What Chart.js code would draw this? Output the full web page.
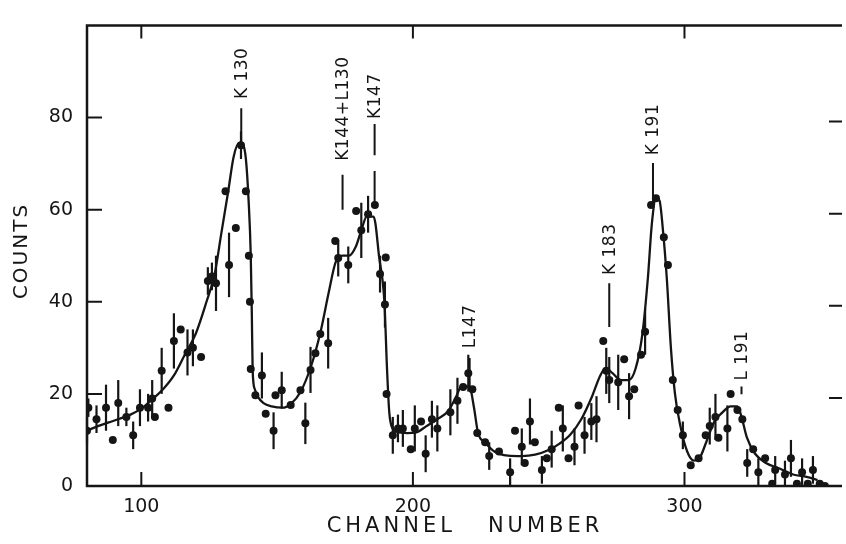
<!DOCTYPE html>
<html>
<head>
<meta charset="utf-8">
<script src="https://cdn.jsdelivr.net/npm/chart.js@4.4.1/dist/chart.umd.min.js"></script>
<style>
    html, body { margin: 0; padding: 0; background: #fff; }
    #wrap { width: 846px; height: 544px; }
</style>
</head>
<body>
<div id="wrap"><canvas id="myChart"></canvas></div>
<script>
// measured points (channel, counts, error bar half length, 0 = no bar)
const channels = [80, 80.5, 83.5, 87, 89.5, 91.5, 94.5, 97, 99.5, 102.5, 104, 105, 107.5, 110, 112, 114.5, 117, 119, 122,
    124.5, 126, 127.5, 131, 132.3, 134.8, 136.7, 138.5, 139.6, 140, 140.3, 142, 144.4, 145.8, 148.7, 149.4, 151.7, 155,
    158.6, 160.4, 162.3, 164.1, 165.9, 168.8, 171.4, 172.5, 176.2, 179.1, 181, 183.5, 186, 187.9, 190, 189.7, 190.3,
    192.6, 194.5, 196.3, 199.2, 200.7, 203, 204.7, 207, 209, 213.8, 216.4, 218.5, 220.4, 221.9, 223.7, 226.6, 228.1,
    231.7, 235.8, 237.6, 240.1, 241.2, 243.1, 244.9, 247.5, 249.3, 251.1, 253.7, 255.2, 257.3, 259.5, 261, 263.2, 265.7,
    267.6, 270.1, 271.2, 272.3, 275.6, 277.8, 279.6, 281.5, 284, 285.5, 287.7, 289.5, 292.4, 293.9, 295.7, 297.5, 299.4,
    302.3, 305.2, 307.8, 309.3, 311.4, 312.5, 315.8, 317, 319.5, 321.3, 323.1, 325.3, 327.2, 329.7, 332.3, 333.4, 337,
    339.2, 341.4, 343.3, 345.4, 347.3, 349.8, 351.7];
const counts = [12, 17, 14.5, 17, 10, 18, 15, 11, 17, 17, 19, 15, 25, 17, 31.5, 34, 29, 30, 28,
    44.5, 45.5, 44, 64, 48, 56, 74, 64, 50, 40, 25.4, 19.7, 24, 15.7, 12, 19.7, 20.8, 17.6,
    20.8, 13.6, 25.2, 28.8, 33, 31, 53.2, 49.5, 48, 59.7, 55.5, 59, 61, 46, 49.6, 39.4, 20,
    11, 12.5, 12.5, 8, 12.5, 14, 7, 14.5, 12.5, 16, 18.5, 21.5, 24.5, 21, 11.5, 9.5, 6.5,
    7.5, 3, 12, 8.5, 5, 14, 9.5, 3.5, 6, 8, 17, 12.5, 6, 8.5, 17.5, 11, 14,
    14.5, 31.5, 25, 23, 22.5, 27.5, 19.5, 21, 28.5, 33.5, 61, 62.5, 54, 48, 23, 16.5, 11,
    4.5, 6, 11, 13, 15, 10.5, 12.5, 20, 16.5, 14.5, 5, 8, 3, 6, 0.5, 3.5, 2.5,
    6, 0.5, 3, 0.5, 3.5, 0.5, 0];
const errors = [3, 2, 3, 5, 0, 5, 2, 3, 4, 3, 4, 0, 5, 0, 6, 0, 5, 4, 0,
    3, 3, 6, 0, 7, 0, 3, 0, 0, 0, 0, 0, 5, 0, 4, 0, 4, 0,
    0, 4.5, 5, 0, 0, 5.5, 0, 4, 4, 0, 6, 4, 0, 4, 0, 5, 0,
    4, 3, 4, 0, 5, 0, 4, 4, 5, 5, 5, 0, 4, 0, 0, 0, 3,
    0, 3, 0, 4, 0, 5, 0, 3, 0, 4, 0, 5, 0, 4, 0, 4, 4,
    5, 0, 5, 5, 6, 0, 5, 0, 0, 5, 0, 0, 0, 0, 0, 0, 3,
    0, 0, 0, 4, 5, 0, 5, 0, 0, 0, 3, 0, 3, 0, 0, 3, 3,
    4, 0, 3, 0, 3, 0, 0];

// drawn fit curve
const fitChannels = [80, 84, 88, 92, 96, 100, 104, 108, 112, 116, 120, 124, 127, 129.5, 132, 134, 136, 137.5, 138.5,
    139.5, 140.3, 140.7, 141, 141.8, 143, 145, 148, 152, 155, 158.5, 162.5, 166, 169, 171.5, 174, 176.5, 179, 181,
    183, 185.5, 186.2, 187.5, 189.5, 190.5, 191.3, 192.5, 194, 198, 201, 205, 209, 213, 216, 218, 221, 222.5, 224,
    226.5, 230, 235, 240, 245, 250, 254, 258, 262, 266, 269, 271, 273.5, 276.5, 279.5, 282, 284.5, 286.5, 288,
    289.5, 290.8, 292, 293.5, 295, 296.5, 298.5, 301, 303.5, 305.5, 308, 311, 314, 317, 319.5, 321, 323, 326, 330,
    335, 340, 345, 349];
const fitCounts = [12, 13, 13.8, 14.6, 15.5, 16.8, 18.8, 21, 24, 28.5, 33, 40, 46, 55, 64, 71.5, 74.5, 74, 71,
    62, 50, 37, 25, 21, 19.3, 18, 17.3, 17, 17.8, 20.3, 26, 33.5, 42, 48.5, 50, 50, 52, 55.5,
    58.5, 58.5, 57, 50, 40, 25, 16, 12.5, 11.8, 11.5, 11.6, 13, 14.5, 16.3, 19.5, 21.8, 21.3, 17, 11.5,
    9.5, 7.5, 6.6, 6.5, 6.8, 7.8, 9.2, 11.2, 14.5, 19.5, 24, 25.6, 24.5, 23, 23, 25.5, 33, 45, 57,
    62.5, 62, 56, 45, 30, 20, 13, 7.5, 5.5, 6, 9.5, 14, 16, 17.3, 17.3, 15, 10.5, 7, 5,
    3.8, 2.5, 2, 1.3];

const xTicks = [100, 200, 300];
const yTicks = [0, 20, 40, 60, 80];

// peak labels with their marker lines (in counts)
const peakNames = ['K 130', 'K144+L130', 'K147', 'L147', 'K 183', 'K 191', 'L 191'];
const peakChannels = [136.8, 174.1, 185.9, 220.9, 272.3, 288.4, 321];
const peakLineFrom = [73.5, 60, 60.6, 21, 34.5, 61.2, 19.9];
const peakLineTo = [82, 67.6, 68.4, 27.8, 44, 70.1, 21.6];
const peakTextAt = [84, 70.6, 79.7, 29.9, 45.8, 71.8, 22.9];
const dashMarks = [[185.9, 71.8, 78.6]];

const ink = '#151515';
const fontName = '"DejaVu Sans", sans-serif';

const inkPlugin = {
    id: 'inkPlugin',
    beforeDatasetsDraw(chart) {
        const ctx = chart.ctx;
        const x = chart.scales.x, y = chart.scales.y;
        ctx.save();
        ctx.strokeStyle = ink;
        ctx.lineWidth = 2.2;
        for (let i = 0; i < channels.length; i++) {
            if (!errors[i]) continue;
            let px = x.getPixelForValue(channels[i]);
            ctx.beginPath();
            ctx.moveTo(px, y.getPixelForValue(Math.max(0, counts[i] - errors[i])));
            ctx.lineTo(px, y.getPixelForValue(counts[i] + errors[i]));
            ctx.stroke();
        }
        ctx.restore();
    },
    afterDraw(chart) {
        const ctx = chart.ctx;
        const a = chart.chartArea;
        const x = chart.scales.x, y = chart.scales.y;
        ctx.save();
        ctx.strokeStyle = ink;
        ctx.lineWidth = 2.5;
        // frame: left, top, bottom
        ctx.beginPath();
        ctx.moveTo(a.right, a.top);
        ctx.lineTo(a.left, a.top);
        ctx.lineTo(a.left, a.bottom);
        ctx.lineTo(a.right, a.bottom);
        ctx.stroke();
        // inward ticks
        ctx.lineWidth = 2;
        ctx.beginPath();
        yTicks.forEach(v => {
            let py = y.getPixelForValue(v);
            if (v === 0) return;
            ctx.moveTo(a.left, py); ctx.lineTo(a.left + 15, py);
            ctx.moveTo(a.right, py + 4); ctx.lineTo(a.right - 13, py + 4);
        });
        xTicks.forEach(v => {
            let px = x.getPixelForValue(v);
            ctx.moveTo(px, a.bottom); ctx.lineTo(px, a.bottom - 14);
            ctx.moveTo(px, a.top); ctx.lineTo(px, a.top + 13);
        });
        ctx.stroke();

        // peak markers
        ctx.lineWidth = 2;
        ctx.beginPath();
        peakChannels.forEach((c, i) => {
            let px = x.getPixelForValue(c);
            ctx.moveTo(px, y.getPixelForValue(peakLineFrom[i]));
            ctx.lineTo(px, y.getPixelForValue(peakLineTo[i]));
        });
        dashMarks.forEach(d => {
            let px = x.getPixelForValue(d[0]);
            ctx.moveTo(px, y.getPixelForValue(d[1]));
            ctx.lineTo(px, y.getPixelForValue(d[2]));
        });
        ctx.stroke();

        ctx.fillStyle = ink;
        ctx.font = '17px ' + fontName;
        ctx.letterSpacing = '0.5px';
        ctx.textAlign = 'left';
        ctx.textBaseline = 'middle';
        peakNames.forEach((t, i) => {
            ctx.save();
            ctx.translate(x.getPixelForValue(peakChannels[i]), y.getPixelForValue(peakTextAt[i]));
            ctx.rotate(-Math.PI / 2);
            ctx.fillText(t, 0, 1);
            ctx.restore();
        });

        // axis titles
        ctx.textAlign = 'center';
        ctx.font = '20px ' + fontName;
        ctx.letterSpacing = '2px';
        ctx.save();
        ctx.translate(22, 251);
        ctx.rotate(-Math.PI / 2);
        ctx.fillText('COUNTS', 0, 0);
        ctx.restore();
        ctx.font = '21px ' + fontName;
        ctx.letterSpacing = '4px';
        ctx.fillText('CHANNEL   NUMBER', 465, 527);
        ctx.restore();
    }
};

let ctx = document.getElementById('myChart');

new Chart(ctx, {
    type: 'scatter',
    data: {
        datasets: [{
            data: channels.map((c, i) => ({ x: c, y: counts[i] })),
            pointRadius: 4,
            pointBackgroundColor: ink,
            pointBorderWidth: 0,
            showLine: false
        }, {
            type: 'line',
            data: fitChannels.map((c, i) => ({ x: c, y: fitCounts[i] })),
            borderColor: ink,
            borderWidth: 2.3,
            pointRadius: 0,
            fill: false,
            cubicInterpolationMode: 'monotone'
        }]
    },
    options: {
        responsive: true,
        maintainAspectRatio: false,
        animation: false,
        layout: { padding: { top: 14, right: 0, left: 0, bottom: 0 } },
        plugins: {
            legend: { display: false },
            tooltip: { enabled: false }
        },
        scales: {
            x: {
                type: 'linear',
                min: 80,
                max: 358,
                afterBuildTicks: s => { s.ticks = xTicks.map(v => ({ value: v })); },
                afterFit: s => { s.height = 58; },
                grid: { display: false, drawTicks: false },
                border: { display: false },
                ticks: { color: ink, padding: 10, font: { family: fontName, size: 19 } }
            },
            y: {
                min: 0,
                max: 100,
                afterBuildTicks: s => { s.ticks = yTicks.map(v => ({ value: v })); },
                afterFit: s => { s.width = 87; },
                grid: { display: false, drawTicks: false },
                border: { display: false },
                ticks: { color: ink, padding: 14, font: { family: fontName, size: 19 } }
            }
        }
    },
    plugins: [inkPlugin]
});
</script>
</body>
</html>
